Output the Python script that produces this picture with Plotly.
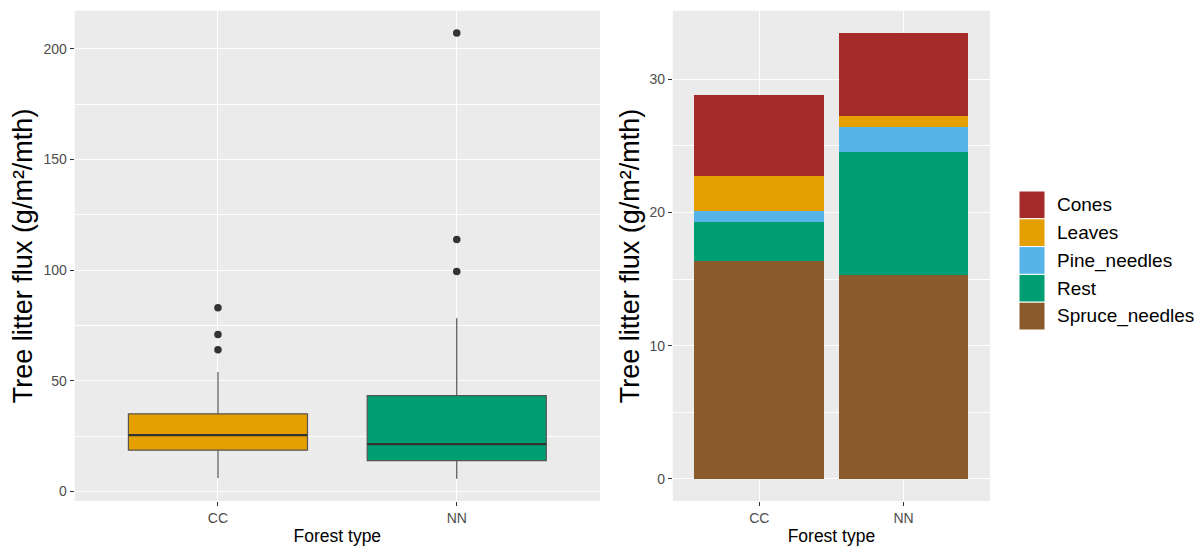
import plotly.graph_objects as go

# ---------------- data ----------------
forest_types = ["CC", "NN"]

# box plot statistics (left panel)
box_q1 = [18.7, 14.0]
box_median = [25.5, 21.4]
box_q3 = [35.1, 43.3]
box_lower = [6.1, 5.8]
box_upper = [54.0, 78.3]
box_colors = ["#E69F00", "#009E73"]

outliers_cc = [83.0, 71.0, 64.1]
outliers_nn = [207.1, 113.9, 99.4]

# stacked bars (right panel)
components = ["Spruce_needles", "Rest", "Pine_needles", "Leaves", "Cones"]
comp_values = {
    "Spruce_needles": [16.39, 15.34],
    "Rest": [2.88, 9.21],
    "Pine_needles": [0.86, 1.84],
    "Leaves": [2.59, 0.84],
    "Cones": [6.08, 6.25],
}
comp_colors = {
    "Cones": "#A52A2A",
    "Leaves": "#E69F00",
    "Pine_needles": "#56B4E9",
    "Rest": "#009E73",
    "Spruce_needles": "#8B5A2B",
}
legend_order = ["Cones", "Leaves", "Pine_needles", "Rest", "Spruce_needles"]

y_title = "Tree litter flux (g/m²/mth)"
x_title = "Forest type"

FONT = "Liberation Sans, Arial, Helvetica, sans-serif"
TICKCOL = "#4D4D4D"

fig = go.Figure()

# ---------------- left: box plots ----------------
BOX_W = 0.75
for i, ft in enumerate(forest_types):
    fig.add_trace(go.Box(
        x=[ft], q1=[box_q1[i]], median=[box_median[i]], q3=[box_q3[i]],
        lowerfence=[box_lower[i]], upperfence=[box_upper[i]],
        width=BOX_W, whiskerwidth=0, boxpoints=False,
        fillcolor=box_colors[i],
        line=dict(color="#555555", width=1.2),
        xaxis="x", yaxis="y", showlegend=False, hoverinfo="skip",
    ))
    # thicker median line like ggplot
    fig.add_shape(type="line", xref="x", yref="y",
                  x0=i - BOX_W / 2, x1=i + BOX_W / 2,
                  y0=box_median[i], y1=box_median[i],
                  line=dict(color="#333333", width=2.3))

for ft, vals in zip(forest_types, [outliers_cc, outliers_nn]):
    fig.add_trace(go.Scatter(
        x=[ft] * len(vals), y=vals, mode="markers",
        marker=dict(color="#333333", size=7.5),
        xaxis="x", yaxis="y", showlegend=False, hoverinfo="skip",
    ))

# ---------------- right: stacked bars ----------------
for comp in components:
    fig.add_trace(go.Bar(
        x=forest_types, y=comp_values[comp], name=comp,
        marker=dict(color=comp_colors[comp], line=dict(width=0)),
        width=0.9, xaxis="x2", yaxis="y2", showlegend=False,
    ))

# ---------------- custom legend ----------------
key_x0, key_x1 = 1019 / 1202, 1045 / 1202
key_top = 191
key_h = 27.8
for j, comp in enumerate(legend_order):
    top = key_top + j * key_h
    fig.add_shape(type="rect", xref="paper", yref="paper",
                  x0=key_x0, x1=key_x1,
                  y0=1 - (top + key_h) / 546, y1=1 - top / 546,
                  fillcolor=comp_colors[comp],
                  line=dict(color="white", width=1))
    fig.add_annotation(text=comp, xref="paper", yref="paper",
                       x=1055 / 1202, y=1 - (top + key_h / 2) / 546,
                       xanchor="left", yanchor="middle", showarrow=False,
                       font=dict(size=19, color="black", family=FONT))

# ---------------- axes ----------------
dom_y = [(546 - 501) / 546, (546 - 10.8) / 546]
common_x = dict(
    type="category", showgrid=True, gridcolor="white", gridwidth=1.1,
    ticks="outside", ticklen=4, tickcolor="#333333", tickwidth=1,
    tickfont=dict(size=14, color=TICKCOL, family=FONT),
    zeroline=False, showline=False,
    title=dict(text=x_title, font=dict(size=17.5, color="black", family=FONT), standoff=6),
)
common_y = dict(
    showgrid=True, gridcolor="white", gridwidth=1.1,
    ticks="outside", ticklen=4, tickcolor="#333333", tickwidth=1,
    tickfont=dict(size=14, color=TICKCOL, family=FONT),
    zeroline=False, showline=False,
)

fig.update_layout(
    width=1202, height=546,
    margin=dict(l=0, r=0, t=0, b=0),
    paper_bgcolor="white", plot_bgcolor="#EBEBEB",
    font=dict(family=FONT),
    boxmode="overlay", barmode="stack", bargap=0.1,
    showlegend=False,
    xaxis=dict(domain=[74.7 / 1202, 600 / 1202], range=[-0.6, 1.6], anchor="y", **common_x),
    yaxis=dict(domain=dom_y, range=[-4.27, 217.17], anchor="x",
               tickvals=[0, 50, 100, 150, 200],
               minor=dict(tickvals=[25, 75, 125, 175], showgrid=True,
                          gridcolor="white", gridwidth=0.55, ticks=""),
               title=dict(text=y_title, font=dict(size=27, color="black", family=FONT), standoff=3),
               **common_y),
    xaxis2=dict(domain=[672.8 / 1202, 990 / 1202], range=[-0.6, 1.6], anchor="y2", **common_x),
    yaxis2=dict(domain=dom_y, range=[-1.674, 35.154], anchor="x2",
                tickvals=[0, 10, 20, 30],
                minor=dict(tickvals=[5, 15, 25], showgrid=True,
                           gridcolor="white", gridwidth=0.55, ticks=""),
                title=dict(text=y_title, font=dict(size=27, color="black", family=FONT), standoff=1),
                **common_y),
)

fig.write_html("out.html")
